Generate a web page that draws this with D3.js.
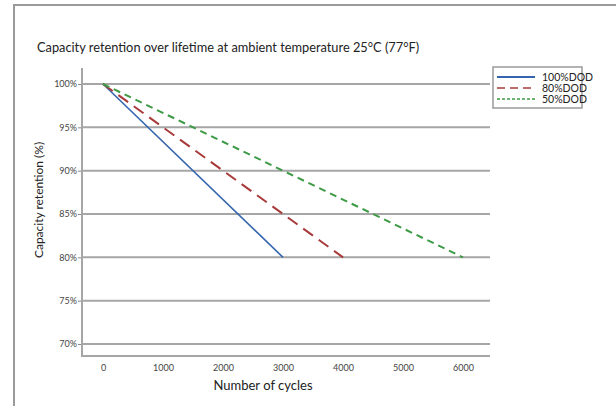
<!DOCTYPE html>
<html>
<head>
<meta charset="utf-8">
<script src="https://d3js.org/d3.v7.min.js"></script>
<style>
  body { margin: 0; background: #fff; }
  svg { display: block; font-family: Lato, "Open Sans", sans-serif; }
</style>
</head>
<body>
<div id="chart"></div>
<script>
// data
var seriesNames = ["100%DOD", "80%DOD", "50%DOD"];
var cycles100 = [0, 3000];
var retention100 = [100, 80];
var cycles80 = [0, 4000];
var retention80 = [100, 80];
var cycles50 = [0, 6000];
var retention50 = [100, 80];
var xTicks = [0, 1000, 2000, 3000, 4000, 5000, 6000];
var yTicks = [70, 75, 80, 85, 90, 95, 100];

var colors = ["#3566ad", "#a83a3a", "#3d9a45"];
var dashes = [null, "12,7", "7,5"];

var W = 616, H = 406;
var svg = d3.select("#chart").append("svg").attr("width", W).attr("height", H);

// outer frame
svg.append("path")
    .attr("d", "M14,406 V5 H616")
    .attr("fill", "none").attr("stroke", "#9a9a9a").attr("stroke-width", 2);

var x = d3.scaleLinear().domain([0, 6000]).range([103, 463]);
var y = d3.scaleLinear().domain([70, 100]).range([344, 84]);

svg.append("text")
    .attr("x", 37).attr("y", 52)
    .attr("font-size", 12.8).attr("fill", "#222")
    .text("Capacity retention over lifetime at ambient temperature 25°C (77°F)");

// gridlines
svg.append("g").selectAll("line").data(yTicks).join("line")
    .attr("x1", 82).attr("x2", 490)
    .attr("y1", d => y(d)).attr("y2", d => y(d))
    .attr("stroke", "#a6a6a6").attr("stroke-width", 2);

// axes
var yAxis = d3.axisLeft(y).tickValues(yTicks).tickSize(4).tickFormat(d => d + "%");
var gy = svg.append("g").attr("transform", "translate(82,0)").call(yAxis);
gy.select(".domain").remove();
gy.selectAll(".tick line").attr("stroke", "#888");
gy.selectAll(".tick text").attr("font-size", 9).attr("fill", "#444").attr("x", -5)
    .attr("font-family", "Lato");

var xAxis = d3.axisBottom(x).tickValues(xTicks).tickSize(0).tickFormat(d3.format("d"));
var gx = svg.append("g").attr("transform", "translate(0,356)").call(xAxis);
gx.select(".domain").remove();
gx.selectAll(".tick text").attr("font-size", 9).attr("fill", "#444").attr("dy", "1.3em")
    .attr("font-family", "Lato");

svg.append("path")
    .attr("d", "M82,68 V356 H490")
    .attr("fill", "none").attr("stroke", "#a6a6a6").attr("stroke-width", 2);

svg.append("text")
    .attr("x", 263).attr("y", 390).attr("text-anchor", "middle")
    .attr("font-size", 13).attr("fill", "#222")
    .text("Number of cycles");

svg.append("text")
    .attr("transform", "translate(43,200) rotate(-90)")
    .attr("text-anchor", "middle")
    .attr("font-size", 12).attr("fill", "#222")
    .text("Capacity retention (%)");

// series
var series = [
  cycles100.map((c, i) => [c, retention100[i]]),
  cycles80.map((c, i) => [c, retention80[i]]),
  cycles50.map((c, i) => [c, retention50[i]])
];
var line = d3.line().x(d => x(d[0])).y(d => y(d[1]));

svg.append("g").selectAll("path").data(series).join("path")
    .attr("d", line)
    .attr("fill", "none")
    .attr("stroke", (d, i) => colors[i])
    .attr("stroke-width", (d, i) => i == 0 ? 1.6 : 2)
    .attr("stroke-dasharray", (d, i) => dashes[i]);

// legend
var lg = svg.append("g");
lg.append("rect")
    .attr("x", 493).attr("y", 67).attr("width", 89).attr("height", 41)
    .attr("fill", "#fff").attr("stroke", "#9a9a9a").attr("stroke-width", 1.5);
var items = lg.selectAll("g.item").data(seriesNames).join("g")
    .attr("class", "item")
    .attr("transform", (d, i) => "translate(0," + (77 + i * 11) + ")");
items.append("line")
    .attr("x1", 497).attr("x2", 535)
    .attr("stroke", (d, i) => colors[i])
    .attr("stroke-width", (d, i) => i == 0 ? 2 : 1.5)
    .attr("stroke-dasharray", (d, i) => i == 0 ? null : (i == 1 ? "8,5" : "3,2"));
items.append("text")
    .attr("x", 542).attr("y", 4)
    .attr("font-size", 10.5).attr("fill", "#222")
    .text(d => d);
</script>
</body>
</html>
